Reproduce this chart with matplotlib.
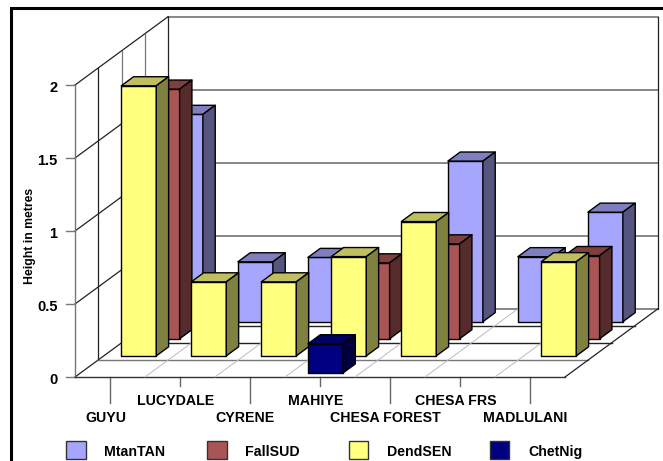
import matplotlib
matplotlib.use('Agg')
import matplotlib.pyplot as plt
from matplotlib.patches import Polygon, Rectangle

plt.rcParams['font.family'] = ['Liberation Sans', 'DejaVu Sans']

sites = ['GUYU', 'LUCYDALE', 'CYRENE', 'MAHIYE', 'CHESA FOREST', 'CHESA FRS', 'MADLULANI']
mtan_tan = [1.42, 0.41, 0.44, None, 1.10, 0.445, 0.75]
fall_sud = [1.71, None, None, 0.52, 0.65, None, 0.57]
dend_sen = [1.85, 0.507, 0.507, 0.68, 0.92, None, 0.645]
chet_nig = [None, None, None, 0.20, None, None, None]
value_ticks = [0, 0.5, 1, 1.5, 2]
tick_labels = ['0', '0.5', '1', '1.5', '2']

# back row first so nearer bars paint over it
series = [
    ('MtanTAN', mtan_tan, 3, '#A6A6FF', '#7F7FBF', '#55557F'),
    ('FallSUD', fall_sud, 2, '#AA5555', '#7F3F3F', '#552B2B'),
    ('DendSEN', dend_sen, 1, '#FFFF80', '#BFBF5F', '#80803F'),
    ('ChetNig', chet_nig, 0, '#000080', '#000060', '#000040'),
]
legend_order = ['MtanTAN', 'FallSUD', 'DendSEN', 'ChetNig']

W, H = 663, 461
CAT_PX = 70.0     # width of one category
VAL_PX = 146.0    # height of one metre
ORIGIN = (75.0, 377.0)
ROW_DX = 23.3 / CAT_PX  # oblique shift for one row of depth
ROW_DY = 17.1 / VAL_PX
N_ROWS = 4
BAR_W = 0.5
BAR_D = 0.53      # bar depth as a fraction of a row


def proj(x, v, depth):
    # oblique projection onto the 2d axes
    return (x + depth * ROW_DX, v + depth * ROW_DY)


def px_x(px):
    return (px - ORIGIN[0]) / CAT_PX


def px_y(py):
    return (ORIGIN[1] - py) / VAL_PX


def draw_bar(ax, i, v, row, front, top, side):
    x0 = i + (1 - BAR_W) / 2
    x1 = x0 + BAR_W
    d0 = row + (1 - BAR_D) / 2
    d1 = d0 + BAR_D
    faces = [
        ([(x0, 0, d0), (x1, 0, d0), (x1, v, d0), (x0, v, d0)], front),
        ([(x0, v, d0), (x1, v, d0), (x1, v, d1), (x0, v, d1)], top),
        ([(x1, 0, d0), (x1, 0, d1), (x1, v, d1), (x1, v, d0)], side),
    ]
    for pts, color in faces:
        ax.add_patch(Polygon([proj(*p) for p in pts], closed=True, facecolor=color,
                             edgecolor='black', linewidth=1.0, joinstyle='round', zorder=5))


fig = plt.figure(figsize=(W / 100, H / 100), dpi=100)
ax = fig.add_axes([0, 0, 1, 1])
ax.set_xlim(px_x(0), px_x(W))
ax.set_ylim(px_y(H), px_y(0))
ax.axis('off')

n = len(sites)

# outer frame, only the top and left edges show
ax.plot([px_x(11), px_x(11), px_x(W)], [px_y(H), px_y(8), px_y(8)], color='black', lw=2.2, zorder=1,
        solid_joinstyle='miter')

# back wall and left wall gridlines
for v in value_ticks:
    ax.plot(*zip(proj(0, v, N_ROWS), proj(n, v, N_ROWS)), color='#666666', lw=1.1, zorder=2)
    ax.plot(*zip(proj(0, v, 0), proj(0, v, N_ROWS)), color='#222222', lw=0.9, zorder=2)
for row, color in zip(range(1, N_ROWS + 1), ['#222222', '#777777', '#777777', '#222222']):
    ax.plot(*zip(proj(0, 0, row), proj(0, 2, row)), color=color, lw=0.9, zorder=2)
ax.plot(*zip(proj(n, 0, N_ROWS), proj(n, 2, N_ROWS)), color='#222222', lw=0.9, zorder=2)
ax.plot(*zip(proj(0, 0, 0), proj(0, 2, 0)), color='#777777', lw=1.0, zorder=2)

# floor: row lines, category lines and the outer edge
for row, color in zip(range(N_ROWS), ['#333333', '#777777', '#222222', '#222222']):
    ax.plot(*zip(proj(0, 0, row), proj(n, 0, row)), color=color, lw=1.0, zorder=3)
ax.plot(*zip(proj(n, 0, 0), proj(n, 0, N_ROWS)), color='#222222', lw=0.9, zorder=3)
for i in range(1, n):
    ax.plot(*zip(proj(i, 0, 0), proj(i, 0, N_ROWS)), color='#BBBBBB', lw=0.7, zorder=3)

# value axis ticks and labels
for v, label in zip(value_ticks, tick_labels):
    ax.plot([px_x(66), 0], [v, v], color='#777777', lw=1.0, zorder=2)
    ax.text(px_x(57.5), v - 3 / VAL_PX, label, ha='right', va='center', fontsize=10.5,
            fontweight='bold', color='black')
ax.text(px_x(30), px_y(235.5), 'Height in metres', rotation=90, ha='center', va='center',
        fontsize=8.8, fontweight='bold', color='black')

# category ticks, alternating long and short with staggered labels
for i, name in enumerate(sites):
    long_tick = i % 2 == 0
    bottom = 403 if long_tick else 386
    ax.plot([i + 0.5, i + 0.5], [0, px_y(bottom)], color='#666666', lw=1.0, zorder=2)
    label_y = 418 if long_tick else 401
    ax.text(i + 0.435, px_y(label_y), name, ha='center', va='center', fontsize=10.2,
            fontweight='bold', color='black')

# bars
for name, values, row, front, top, side in series:
    for i, v in enumerate(values):
        if v is not None:
            draw_bar(ax, i, v, row, front, top, side)

# legend keys and names
front_colors = {s[0]: s[3] for s in series}
for k, name in enumerate(legend_order):
    left = 66 + k * 141.3
    ax.add_patch(Rectangle((px_x(left), px_y(459)), 19.5 / CAT_PX, 18 / VAL_PX,
                           facecolor=front_colors[name], edgecolor='#333333', linewidth=1.0, zorder=5))
    ax.text(px_x(left + 38), px_y(451.5), name, ha='left', va='center', fontsize=10.2,
            fontweight='bold', color='black')

fig.savefig('out.png', dpi=100, facecolor='white')
